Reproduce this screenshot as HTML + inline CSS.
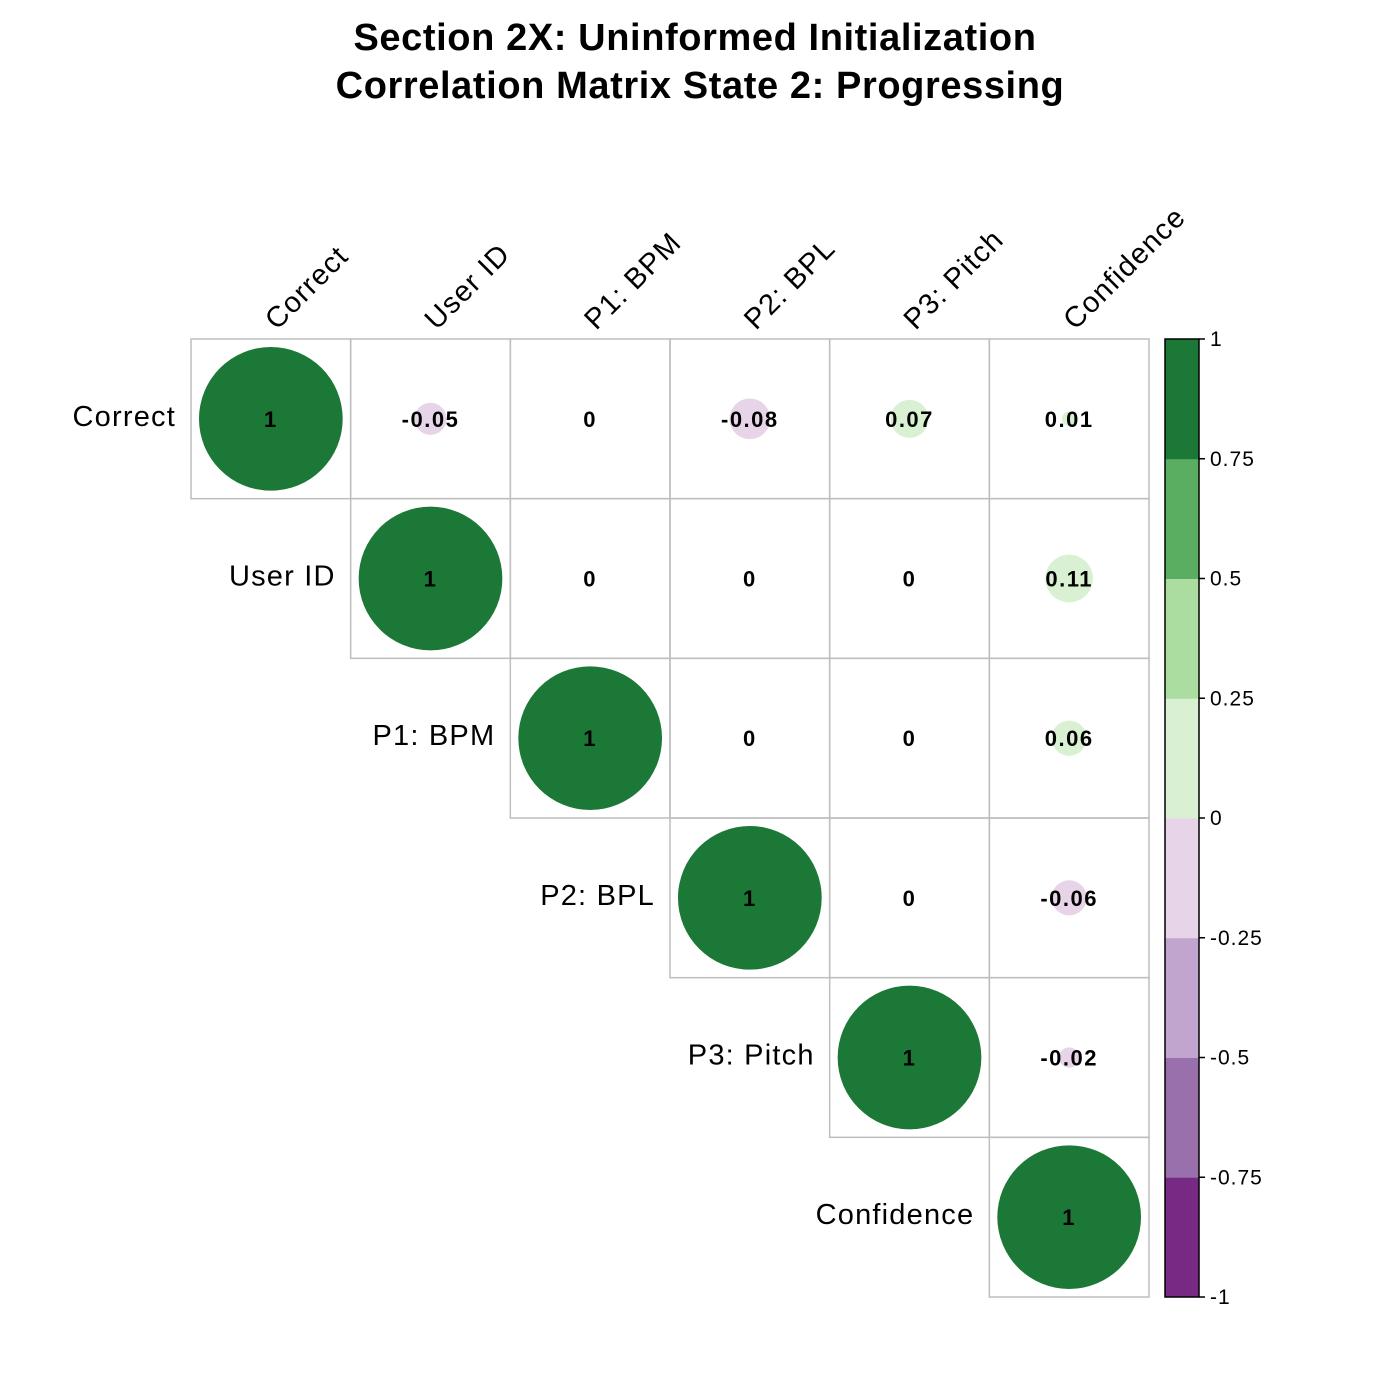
<!DOCTYPE html>
<html><head><meta charset="utf-8"><style>
html,body{margin:0;padding:0;background:#fff;}
svg{display:block;font-family:"Liberation Sans",Arial,sans-serif;}
</style></head><body>
<svg id="chart" width="1400" height="1400" viewBox="0 0 1400 1400">
<text x="695" y="50" text-anchor="middle" font-size="38" letter-spacing="0.6" font-weight="bold">Section 2X: Uninformed Initialization</text>
<text x="700" y="98" text-anchor="middle" font-size="38" letter-spacing="0.6" font-weight="bold">Correlation Matrix State 2: Progressing</text>
<g id="grid"></g><g id="cbar"></g>
</svg>
<script>
const variables = ["Correct","User ID","P1: BPM","P2: BPL","P3: Pitch","Confidence"];
const corrValues = [
 [1,-0.05,0,-0.08,0.07,0.01],
 [null,1,0,0,0,0.11],
 [null,null,1,0,0,0.06],
 [null,null,null,1,0,-0.06],
 [null,null,null,null,1,-0.02],
 [null,null,null,null,null,1]
];
const colorBins = ["#762A83","#9970AB","#C2A5CF","#E7D4E8","#D9F0D3","#ACDDA0","#5AAE61","#1B7837"];
const cbarTicks = ["-1","-0.75","-0.5","-0.25","0","0.25","0.5","0.75","1"];

const NS="http://www.w3.org/2000/svg";
const x0=191,y0=339,cell=(1149-191)/6;
const g=document.getElementById('grid'), cb=document.getElementById('cbar');
function mk(tag,attrs,parent){const e=document.createElementNS(NS,tag);for(const k in attrs)e.setAttribute(k,attrs[k]);parent.appendChild(e);return e;}
function colorOf(v){let i=Math.floor((v+1)/0.25);if(i>7)i=7;if(i<0)i=0;return colorBins[i];}
function fmt(v){return (Math.round(v*100)/100).toString();}
const n=variables.length;
for(let i=0;i<n;i++){
 for(let j=i;j<n;j++){
  const v=corrValues[i][j]; if(v===null)continue;
  const cx=x0+j*cell, cy=y0+i*cell;
  const r=mk('rect',{x:cx,y:cy,width:cell,height:cell,fill:'none',stroke:'#BEBEBE','stroke-width':1.5},g);
  
  
  const rad=Math.sqrt(Math.abs(v))*0.9*cell/2;
  if(rad>0){
   const c=mk('circle',{cx:cx+cell/2,cy:cy+cell/2,r:rad,fill:colorOf(v)},g);
   
   
  }
  const t=mk('text',{x:cx+cell/2,y:cy+cell/2+8,'text-anchor':'middle','font-size':22,'letter-spacing':1.5,'font-weight':'bold'},g);
  t.textContent=fmt(v);
  
  
 }
 const rl=mk('text',{x:x0+i*cell-15,y:y0+i*cell+cell/2+7,'text-anchor':'end','font-size':29,'letter-spacing':1.2},g);
 rl.textContent=variables[i];
 
 
 const lx=x0+i*cell+cell/2+6, ly=y0-8;
 const cl=mk('text',{x:lx,y:ly,'font-size':29,'letter-spacing':1.2,transform:'rotate(-45 '+lx+' '+ly+')'},g);
 cl.textContent=variables[i];
 
 
}
const bx=1165,bw=34,by0=339,by1=1297,bh=(by1-by0)/colorBins.length;
colorBins.forEach((c,k)=>{
 const r=mk('rect',{x:bx,y:by1-(k+1)*bh,width:bw,height:bh+0.5,fill:c},cb);
 
 
});
mk('rect',{x:bx,y:by0,width:bw,height:by1-by0,fill:'none',stroke:'#000','stroke-width':1.5},cb);
cbarTicks.forEach((t,k)=>{
 const y=by1-k*(by1-by0)/(cbarTicks.length-1);
 mk('line',{x1:bx+bw,x2:bx+bw+6,y1:y,y2:y,stroke:'#000','stroke-width':1.5},cb);
 const tx=mk('text',{x:bx+bw+11,y:y+7,'font-size':21,'letter-spacing':1},cb);
 tx.textContent=t;
 
 
});
</script>
</body></html>
